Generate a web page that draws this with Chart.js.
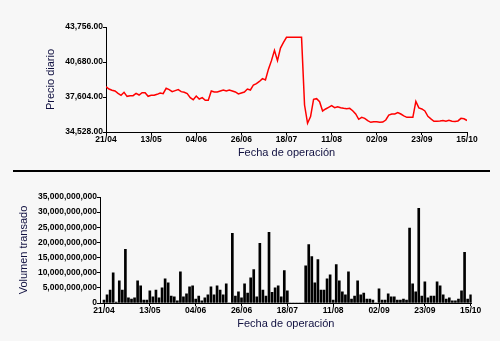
<!DOCTYPE html>
<html>
<head>
<meta charset="utf-8">
<script src="https://cdn.jsdelivr.net/npm/chart.js@4/dist/chart.umd.min.js"></script>
<style>
  html, body { margin: 0; padding: 0; background: #f7f7f7; }
  #wrap { position: relative; width: 500px; height: 341px; overflow: hidden; background: #f7f7f7; }
  #priceCanvas { position: absolute; left: 0; top: 0; }
  #volumeCanvas { position: absolute; left: 0; top: 170px; }
  #divider { position: absolute; left: 13px; top: 170px; width: 477px; height: 2px; background: #000; z-index: 2; }
</style>
</head>
<body>
<div id="wrap">
  <canvas id="priceCanvas" width="500" height="170"></canvas>
  <div id="divider"></div>
  <canvas id="volumeCanvas" width="500" height="171"></canvas>
</div>
<script>
// Trading sessions are plotted by index; one date label every 15 sessions.
const sessionsPerTick = 15;
const tickDates = ['21/04', '13/05', '04/06', '26/06', '18/07', '11/08', '02/09', '23/09', '15/10'];

// Daily closing price, one value per session.
const price = [
  38510, 38308, 38193, 38132, 37927, 37751, 38017, 37663, 37722, 37722,
  37927, 37780, 37986, 37986, 37663, 37751, 37751, 37839, 37956, 37898,
  38367, 38250, 38074, 38162, 38250, 38074, 38017, 37898, 37546, 37370,
  37692, 37429, 37546, 37311, 37311, 38132, 38045, 38045, 38132, 38220,
  38132, 38220, 38132, 38045, 37868, 37956, 38045, 38308, 38220, 38660,
  38780, 38970, 39220, 39100, 40050, 40800, 41700, 40800, 41900, 42400,
  42850, 42850, 42850, 42850, 42850, 42850, 36901, 35293, 35880, 37402,
  37459, 37193, 36374, 36550, 36699, 36840, 36664, 36752, 36664, 36611,
  36580, 36611, 36400, 36110, 35644, 35820, 35732, 35525, 35380, 35433,
  35433, 35380, 35400, 35583, 36022, 36110, 36110, 36240, 36110, 35950,
  35820, 35820, 35820, 37220, 36650, 36550, 36380, 35900, 35680, 35470,
  35470, 35500, 35540, 35470, 35560, 35470, 35460, 35500, 35730, 35690,
  35540
];

// Traded volume per session, in billions.
const volumeBn = [
  1.0, 2.7, 4.3, 10.0, 0.3, 7.3, 4.3, 17.7, 1.7, 1.3,
  1.7, 7.3, 5.7, 1.0, 1.0, 4.0, 2.0, 4.3, 1.7, 5.0,
  8.0, 6.7, 2.3, 2.0, 0.7, 10.3, 2.0, 3.0, 5.3, 5.7,
  1.3, 2.3, 0.7, 1.7, 2.7, 5.3, 2.7, 5.7, 4.3, 2.7,
  6.3, 0, 23.0, 2.3, 3.7, 1.7, 6.3, 3.3, 8.3, 11.0,
  2.0, 19.7, 4.3, 2.3, 23.3, 3.5, 5.0, 5.7, 2.0, 10.7,
  4.0, 0, 0, 0, 0, 0, 12.3, 19.3, 15.3, 6.7,
  14.3, 4.3, 4.3, 8.0, 9.3, 1.0, 12.7, 7.3, 3.7, 2.7,
  10.3, 1.3, 2.3, 7.3, 2.7, 3.3, 1.3, 1.3, 1.0, 0,
  4.7, 1.0, 1.0, 3.0, 2.0, 2.0, 1.0, 1.0, 1.3, 1.0,
  24.7, 6.3, 3.7, 31.3, 2.3, 7.0, 1.7, 2.3, 2.3, 7.0,
  5.7, 2.7, 1.3, 1.7, 0.7, 0.7, 1.3, 4.0, 16.7, 1.3,
  2.7
];

const priceTicks = [34528, 37604, 40680, 43756];
const volumeTicksBn = [0, 5, 10, 15, 20, 25, 30, 35];

const tickFont = { family: "'Liberation Sans', Arial, sans-serif", size: 8.5, weight: 'bold' };
const titleFont = { family: "'Liberation Sans', Arial, sans-serif", size: 11 };
const titleColor = '#101040';

function dateAxis(min, max) {
  return {
    type: 'linear',
    min: min,
    max: max,
    offset: false,
    afterBuildTicks: s => { s.ticks = tickDates.map((_, k) => ({ value: k * sessionsPerTick })); },
    afterFit: s => { s.height = 38; },
    grid: { drawOnChartArea: false, offset: false, tickLength: 3, color: '#000', lineWidth: 1 },
    border: { color: '#000', width: 1 },
    ticks: {
      font: tickFont, color: '#000', padding: 0, maxRotation: 0, autoSkip: false,
      callback: v => tickDates[Math.round(v / sessionsPerTick)]
    },
    title: { display: true, text: 'Fecha de operación', font: titleFont, color: titleColor, padding: { top: 0, bottom: 10 } }
  };
}

const common = {
  responsive: false,
  animation: false,
  events: [],
  plugins: { legend: { display: false }, tooltip: { enabled: false } }
};

new Chart(document.getElementById('priceCanvas'), {
  type: 'line',
  data: {
    datasets: [{
      data: price.map((v, i) => ({ x: i, y: v })),
      borderColor: '#ff0000',
      borderWidth: 1.5,
      pointRadius: 0,
      tension: 0,
      fill: false
    }]
  },
  options: Object.assign({}, common, {
    layout: { padding: { top: 27, right: 33, left: 0, bottom: 0 } },
    scales: {
      x: dateAxis(0, 120),
      y: {
        min: priceTicks[0],
        max: priceTicks[priceTicks.length - 1],
        afterBuildTicks: s => { s.ticks = priceTicks.map(v => ({ value: v })); },
        afterFit: s => { s.width = 106; },
        grid: { drawOnChartArea: false, tickLength: 3, color: '#000', lineWidth: 1 },
        border: { color: '#000', width: 1 },
        ticks: {
          font: tickFont, color: '#000', padding: 0,
          callback: v => v.toLocaleString('en-US', { minimumFractionDigits: 2, maximumFractionDigits: 2 })
        },
        title: { display: true, text: 'Precio diario', font: titleFont, color: titleColor, padding: { top: 44, bottom: 0 } }
      }
    }
  })
});

new Chart(document.getElementById('volumeCanvas'), {
  type: 'bar',
  data: {
    datasets: [{
      data: volumeBn.map((v, i) => ({ x: i, y: v })),
      backgroundColor: '#000',
      borderWidth: 0,
      barThickness: 2
    }]
  },
  options: Object.assign({}, common, {
    layout: { padding: { top: 27, right: 28.3, left: 0, bottom: 0 } },
    scales: {
      x: dateAxis(-1.31, 120.33),
      y: {
        min: 0,
        max: 35,
        afterBuildTicks: s => { s.ticks = volumeTicksBn.map(v => ({ value: v })); },
        afterFit: s => { s.width = 100; },
        grid: { drawOnChartArea: false, tickLength: 3, color: '#000', lineWidth: 1 },
        border: { color: '#000', width: 1 },
        ticks: {
          font: tickFont, color: '#000', padding: 0,
          callback: v => (v * 1e9).toLocaleString('en-US')
        },
        title: { display: true, text: 'Volumen transado', font: titleFont, color: titleColor, padding: { top: 17, bottom: 0 } }
      }
    }
  })
});
</script>
</body>
</html>
